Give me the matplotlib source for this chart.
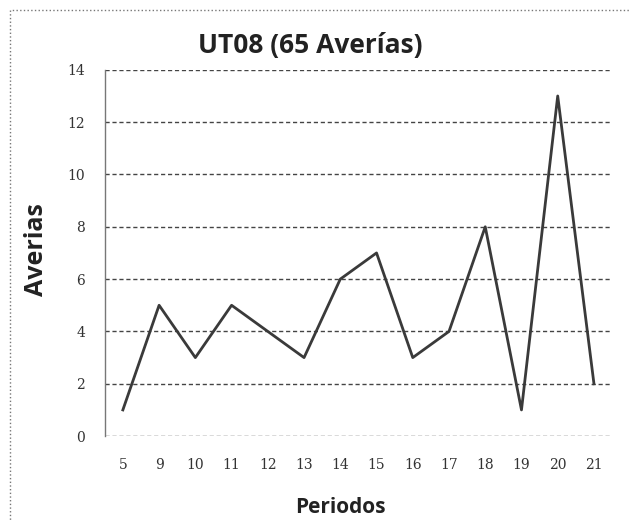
import matplotlib.pyplot as plt
from matplotlib.patches import Rectangle

periodos = ['5', '9', '10', '11', '12', '13', '14', '15', '16', '17', '18', '19', '20', '21']
averias = [1, 5, 3, 5, 4, 3, 6, 7, 3, 4, 8, 1, 13, 2]
yticks = [0, 2, 4, 6, 8, 10, 12, 14]

fig = plt.figure(figsize=(6.31, 5.21), dpi=100)
ax = fig.add_axes([0.166, 0.163, 0.804, 0.703])

xs = range(len(periodos))
ax.plot(xs, averias, color='#3a3a3a', lw=2.0)

ax.set_xlim(-0.5, len(periodos) - 0.5)
ax.set_ylim(0, 14)
ax.set_yticks(yticks)
ax.set_xticks(list(xs))
ax.set_xticklabels(periodos)
ax.tick_params(axis='both', length=0, labelsize=10, colors='#333333')
ax.tick_params(axis='y', pad=14)
ax.tick_params(axis='x', pad=16)
for lab in ax.get_xticklabels() + ax.get_yticklabels():
    lab.set_family('DejaVu Serif')

for y in yticks:
    ax.axhline(y, color='#444444', lw=1.0, ls=(0, (3, 2)), zorder=0)

for s in ['top', 'right', 'bottom']:
    ax.spines[s].set_visible(False)
ax.spines['left'].set_color('#777777')
ax.spines['left'].set_linewidth(1.0)

ax.set_xlabel('Periodos', fontsize=15, fontweight='bold', family='Open Sans', color='#222222')
ax.xaxis.set_label_coords(0.465, -0.165)
ax.set_ylabel('Averias', fontsize=18, fontweight='bold', family='Open Sans', color='#222222')
ax.yaxis.set_label_coords(-0.11, 0.51)
fig.text(0.492, 0.912, 'UT08 (65 Averías)', ha='center', va='center',
         fontsize=19, fontweight='bold', family='Open Sans', color='#222222')

fig.patches.append(Rectangle((0.016, -0.01), 1.0, 0.99, transform=fig.transFigure,
                             fill=False, ls=':', lw=1.0, ec='#777777'))

fig.savefig('out.png', dpi=100)
